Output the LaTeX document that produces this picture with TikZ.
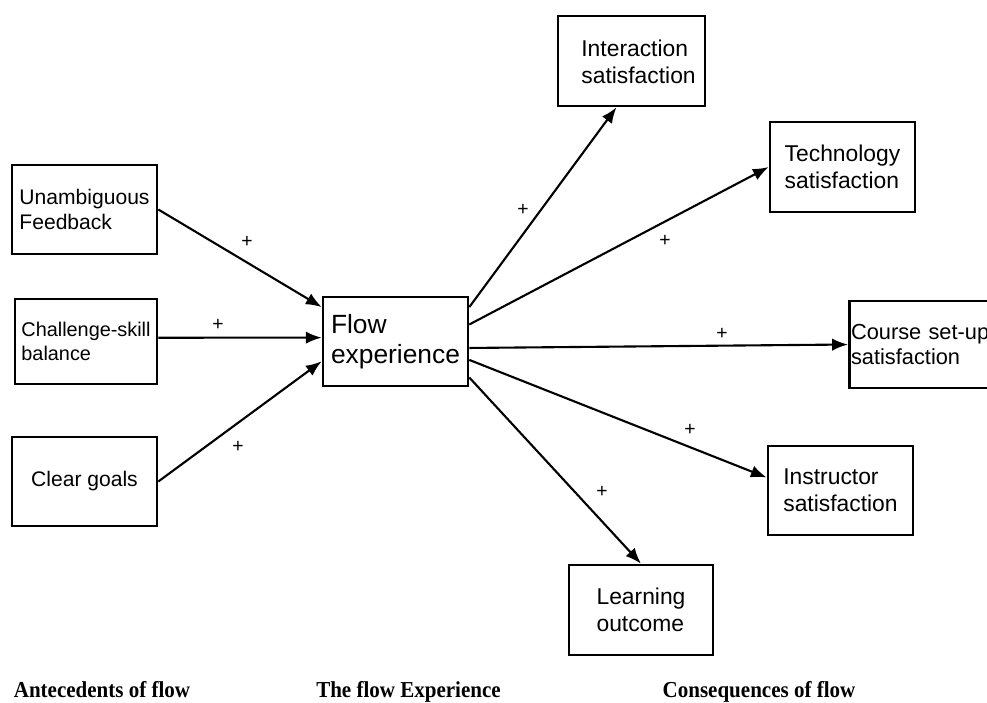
\documentclass[tikz,border=0pt]{standalone}
\usepackage{fontspec}
\setmainfont{Liberation Sans}
\newfontfamily\capfont[FakeStretch=0.92]{Liberation Serif}
\usetikzlibrary{arrows.meta,positioning}

\begin{document}
\begin{tikzpicture}[
  x=0.2mm, y=-0.2mm,
  box/.style={rectangle, draw, line width=1.5pt, minimum width=2.9cm, minimum height=1.78cm, align=left, inner sep=0pt, font=\fontsize{13}{15.3}\selectfont},
  plus/.style={inner sep=0pt, font=\fontsize{11}{11}\selectfont},
  caption/.style={inner sep=0pt, anchor=base, font=\capfont\bfseries\fontsize{13}{15}\selectfont},
  arrow/.style={-{Latex[length=9pt,width=7pt]}, line width=1.2pt}
]
\useasboundingbox (0,0) rectangle (987,702);

% Antecedents
\node[box, font=\fontsize{12}{14.2}\selectfont] (fb) at (84.5,209.5) {Unambiguous\\Feedback};
\node[box, minimum width=2.84cm, minimum height=1.7cm, font=\fontsize{11.3}{13.6}\selectfont] (csb) at (86,341.5) {Challenge-skill\\balance};
\node[box, font=\fontsize{12}{14.2}\selectfont] (cg) at (84.5,481.5) {Clear goals};

% Flow experience
\node[box, font=\fontsize{15}{17}\selectfont] (flow) at (395.5,341.5) {Flow\\experience};

% Consequences
\node[box, minimum width=2.94cm, minimum height=1.8cm] (inter) at (631.5,61) {\strut\hspace*{8pt}Interaction\\\hspace*{8pt}satisfaction};
\node[box, minimum height=1.8cm] (tech) at (842.5,167) {Technology\\satisfaction};
\node[box, anchor=west, minimum width=3cm, minimum height=1.74cm, text width=2.96cm, inner xsep=1pt, font=\fontsize{12.4}{14.6}\selectfont] (course) at (848,344.5) {Course set-up\\satisfaction};
\node[box] (instr) at (840.5,490.5) {Instructor\\satisfaction};
\node[box, minimum width=2.88cm, minimum height=1.8cm] (learn) at (641,610) {Learning\\outcome};

% Arrows
\draw[arrow] (fb.east) -- (flow.155);
\draw[arrow] (csb.3) -- (flow.177);
\draw[arrow] (cg.east) -- (flow.195);
\draw[arrow] (flow.25) -- (inter.252);
\draw[arrow] (flow.13) -- (tech.west);
\draw[arrow] (flow.355) -- (course.west);
\draw[arrow] (flow.346) -- (instr.170);
\draw[arrow] (flow.334) -- (learn.north);

% Signs
\node[plus] (p1) at (247,242) {+};
\node[plus] (p2) at (218,325) {+};
\node[plus] (p3) at (238,447) {+};
\node[plus] (p4) at (523,210) {+};
\node[plus] (p5) at (665,241) {+};
\node[plus] (p6) at (722,334) {+};
\node[plus] (p7) at (690,430) {+};
\node[plus] (p8) at (602,492) {+};

% Captions
\node[caption] (antecedents) at (102,697) {Antecedents of flow};
\node[caption] (experience) at (408.5,697) {The flow Experience};
\node[caption] (consequences) at (759,697) {Consequences of flow};

\end{tikzpicture}
\end{document}
